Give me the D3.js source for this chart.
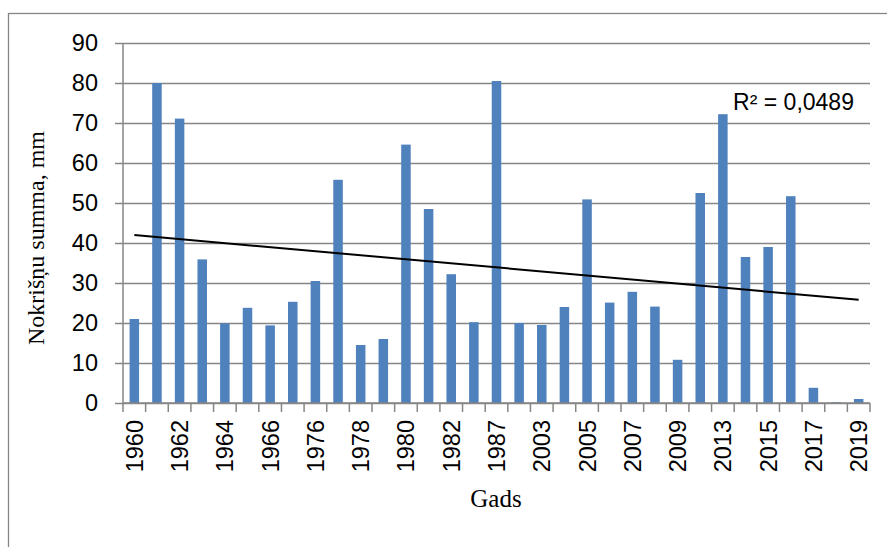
<!DOCTYPE html>
<html>
<head>
<meta charset="utf-8">
<script src="https://cdn.jsdelivr.net/npm/d3@7"></script>
<style>
  body { margin: 0; background: #fff; }
  svg { display: block; }
</style>
</head>
<body>
<div id="chart"></div>
<script>
// years (every other one gets a label on the axis)
const years = ['1960', '1961', '1962', '1963', '1964', '1965', '1966', '1975', '1976', '1977',
    '1978', '1979', '1980', '1981', '1982', '1986', '1987', '2002', '2003', '2004',
    '2005', '2006', '2007', '2008', '2009', '2012', '2013', '2014', '2015', '2016',
    '2017', '2018', '2019']
const rain = [21, 80, 71.1, 35.9, 19.9, 23.8, 19.4, 25.3, 30.5, 55.8,
    14.5, 16, 64.6, 48.5, 32.2, 20.2, 80.5, 20, 19.5, 24,
    50.9, 25.1, 27.8, 24.1, 10.8, 52.5, 72.2, 36.5, 39, 51.7,
    3.8, 0.2, 1]
const yTicks = [0, 10, 20, 30, 40, 50, 60, 70, 80, 90]
// linear trend, value at first and last year
const trend = [42, 25.8]
const r2Label = 'R² = 0,0489'

const selector = '#chart'
const svgWidth = 887
const svgHeight = 547

const margin = { left: 123, right: 17, top: 43, bottom: 144 }
const width = svgWidth - margin.left - margin.right
const height = svgHeight - margin.top - margin.bottom

const grey = '#868686'
const sans = 'Liberation Sans, Arial, sans-serif'
const serif = 'Liberation Serif, Times New Roman, serif'

const root = d3.select(selector)
    .append('svg')
    .attr('width', svgWidth)
    .attr('height', svgHeight)

// outer chart frame (cut by the picture on the right & bottom)
root.append('rect')
    .attr('x', 8.5)
    .attr('y', 13.5)
    .attr('width', 900)
    .attr('height', 600)
    .attr('fill', 'none')
    .attr('stroke', grey)
    .attr('stroke-width', 1.3)

const svg = root.append('g')
    .attr('transform', 'translate(' + margin.left + ',' + margin.top + ')')

////////////////////////////////////
//////////////scales////////////////
////////////////////////////////////

const xScale = d3.scaleBand()
    .domain(years)
    .range([0, width])
    .paddingInner(0.58)
    .paddingOuter(0.29)

const yScale = d3.scaleLinear()
    .domain([0, 90])
    .range([height, 0])

const step = width / years.length

// gridlines + y ticks
const yAxis = svg.append('g')
    .call(d3.axisLeft(yScale).tickValues(yTicks).tickSizeInner(-width).tickPadding(16))
yAxis.select('.domain').remove()
yAxis.selectAll('.tick line')
    .attr('x1', -8)
    .attr('x2', width)
    .attr('stroke', grey)
    .attr('stroke-width', 1.5)
yAxis.selectAll('.tick text')
    .attr('font-family', sans)
    .attr('font-size', 23.5)
    .attr('fill', '#000')
    .attr('x', -25)

// bars
svg.selectAll('.bar')
    .data(years)
    .join('rect')
    .attr('class', 'bar')
    .attr('x', d => xScale(d))
    .attr('width', xScale.bandwidth())
    .attr('y', (d, i) => yScale(rain[i]))
    .attr('height', (d, i) => height - yScale(rain[i]))
    .attr('fill', '#4F81BD')

// y axis line
svg.append('line')
    .attr('x1', 0).attr('x2', 0)
    .attr('y1', 0).attr('y2', height)
    .attr('stroke', grey)
    .attr('stroke-width', 1.5)

// x axis line + ticks at category boundaries
const xAxis = svg.append('g')
    .attr('transform', 'translate(0,' + height + ')')
xAxis.append('line')
    .attr('x1', 0).attr('x2', width)
    .attr('stroke', grey)
    .attr('stroke-width', 1.5)
xAxis.selectAll('.xtick')
    .data(d3.range(years.length + 1))
    .join('line')
    .attr('class', 'xtick')
    .attr('x1', i => i * step).attr('x2', i => i * step)
    .attr('y1', 0).attr('y2', 9)
    .attr('stroke', grey)
    .attr('stroke-width', 1.5)
xAxis.selectAll('.xlabel')
    .data(years.filter((d, i) => i % 2 === 0))
    .join('text')
    .attr('class', 'xlabel')
    .attr('transform', d => 'translate(' + (xScale(d) + xScale.bandwidth() / 2 + 8.5) + ',17) rotate(-90)')
    .attr('text-anchor', 'end')
    .attr('font-family', sans)
    .attr('font-size', 23.5)
    .text(d => d)

// trendline
const first = years[0], last = years[years.length - 1]
svg.append('line')
    .attr('x1', xScale(first) + xScale.bandwidth() / 2)
    .attr('x2', xScale(last) + xScale.bandwidth() / 2)
    .attr('y1', yScale(trend[0]))
    .attr('y2', yScale(trend[1]))
    .attr('stroke', '#000')
    .attr('stroke-width', 2)

svg.append('text')
    .attr('x', xScale('2013') + 15)
    .attr('y', yScale(73.2))
    .attr('font-family', sans)
    .attr('font-size', 23)
    .text(r2Label)

// axis titles
root.append('text')
    .attr('transform', 'translate(44,' + 238 + ') rotate(-90)')
    .attr('text-anchor', 'middle')
    .attr('font-family', serif)
    .attr('font-size', 24)
    .text('Nokrišņu summa, mm')

root.append('text')
    .attr('x', 496)
    .attr('y', 507)
    .attr('text-anchor', 'middle')
    .attr('font-family', serif)
    .attr('font-size', 25)
    .text('Gads')
</script>
</body>
</html>
